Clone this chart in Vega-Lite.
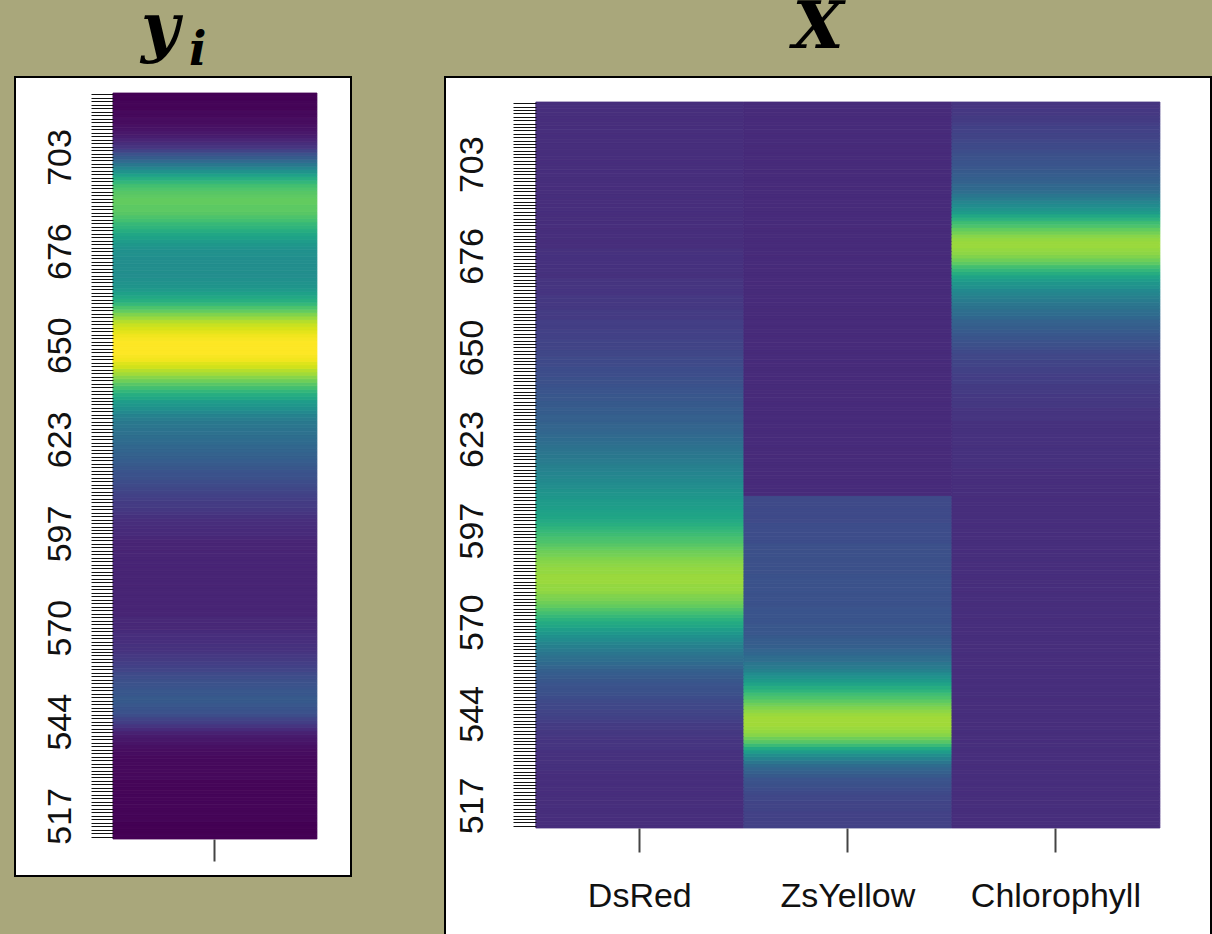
{
  "$schema": "https://vega.github.io/schema/vega-lite/v6.json",
  "background": "#a9a77b",
  "padding": {"left": 14, "top": -6, "right": 0, "bottom": 0},
  "spacing": 94,
  "bounds": "flush",
  "config": {
    "view": {"fill": "white", "stroke": "black", "strokeWidth": 2},
    "axis": {"labelFont": "Liberation Sans", "labelFontSize": 34, "labelColor": "#111111", "tickColor": "#111111", "domain": false, "grid": false, "title": null},
    "title": {"font": "DejaVu Serif", "fontStyle": "italic", "fontWeight": "bold", "color": "black", "anchor": "middle",
              "subtitleFont": "DejaVu Serif", "subtitleFontStyle": "italic", "subtitleFontWeight": "bold", "subtitleColor": "black"}
  },
  "datasets": {
    "spec": [
      {"wl":511.1,"yi":0,"DsRed":0.13,"ZsYellow":0.19,"Chlorophyll":0.13},
      {"wl":512.1,"yi":0,"DsRed":0.13,"ZsYellow":0.19,"Chlorophyll":0.13},
      {"wl":513.1,"yi":0,"DsRed":0.13,"ZsYellow":0.19,"Chlorophyll":0.13},
      {"wl":514.0,"yi":0,"DsRed":0.13,"ZsYellow":0.19,"Chlorophyll":0.13},
      {"wl":515.0,"yi":0,"DsRed":0.13,"ZsYellow":0.19,"Chlorophyll":0.13},
      {"wl":516.0,"yi":0.01,"DsRed":0.13,"ZsYellow":0.2,"Chlorophyll":0.13},
      {"wl":517.0,"yi":0.01,"DsRed":0.13,"ZsYellow":0.2,"Chlorophyll":0.13},
      {"wl":518.0,"yi":0.01,"DsRed":0.13,"ZsYellow":0.2,"Chlorophyll":0.13},
      {"wl":519.0,"yi":0.01,"DsRed":0.13,"ZsYellow":0.21,"Chlorophyll":0.13},
      {"wl":520.0,"yi":0.01,"DsRed":0.13,"ZsYellow":0.21,"Chlorophyll":0.13},
      {"wl":520.9,"yi":0.01,"DsRed":0.13,"ZsYellow":0.22,"Chlorophyll":0.13},
      {"wl":521.9,"yi":0.01,"DsRed":0.13,"ZsYellow":0.23,"Chlorophyll":0.13},
      {"wl":522.9,"yi":0.01,"DsRed":0.13,"ZsYellow":0.24,"Chlorophyll":0.13},
      {"wl":523.9,"yi":0.01,"DsRed":0.13,"ZsYellow":0.25,"Chlorophyll":0.13},
      {"wl":524.9,"yi":0.01,"DsRed":0.13,"ZsYellow":0.26,"Chlorophyll":0.13},
      {"wl":525.9,"yi":0.01,"DsRed":0.13,"ZsYellow":0.28,"Chlorophyll":0.13},
      {"wl":526.8,"yi":0.01,"DsRed":0.13,"ZsYellow":0.3,"Chlorophyll":0.13},
      {"wl":527.8,"yi":0.02,"DsRed":0.14,"ZsYellow":0.32,"Chlorophyll":0.13},
      {"wl":528.8,"yi":0.02,"DsRed":0.14,"ZsYellow":0.35,"Chlorophyll":0.13},
      {"wl":529.8,"yi":0.02,"DsRed":0.14,"ZsYellow":0.39,"Chlorophyll":0.13},
      {"wl":530.8,"yi":0.02,"DsRed":0.14,"ZsYellow":0.44,"Chlorophyll":0.13},
      {"wl":531.8,"yi":0.02,"DsRed":0.14,"ZsYellow":0.49,"Chlorophyll":0.13},
      {"wl":532.7,"yi":0.02,"DsRed":0.14,"ZsYellow":0.55,"Chlorophyll":0.13},
      {"wl":533.7,"yi":0.02,"DsRed":0.15,"ZsYellow":0.61,"Chlorophyll":0.13},
      {"wl":534.7,"yi":0.03,"DsRed":0.15,"ZsYellow":0.68,"Chlorophyll":0.13},
      {"wl":535.7,"yi":0.03,"DsRed":0.15,"ZsYellow":0.74,"Chlorophyll":0.13},
      {"wl":536.7,"yi":0.04,"DsRed":0.15,"ZsYellow":0.78,"Chlorophyll":0.13},
      {"wl":537.7,"yi":0.05,"DsRed":0.16,"ZsYellow":0.82,"Chlorophyll":0.13},
      {"wl":538.7,"yi":0.06,"DsRed":0.16,"ZsYellow":0.84,"Chlorophyll":0.13},
      {"wl":539.6,"yi":0.07,"DsRed":0.17,"ZsYellow":0.85,"Chlorophyll":0.13},
      {"wl":540.6,"yi":0.09,"DsRed":0.17,"ZsYellow":0.86,"Chlorophyll":0.13},
      {"wl":541.6,"yi":0.12,"DsRed":0.18,"ZsYellow":0.86,"Chlorophyll":0.13},
      {"wl":542.6,"yi":0.15,"DsRed":0.19,"ZsYellow":0.86,"Chlorophyll":0.13},
      {"wl":543.6,"yi":0.18,"DsRed":0.2,"ZsYellow":0.85,"Chlorophyll":0.13},
      {"wl":544.6,"yi":0.2,"DsRed":0.2,"ZsYellow":0.83,"Chlorophyll":0.13},
      {"wl":545.5,"yi":0.23,"DsRed":0.21,"ZsYellow":0.81,"Chlorophyll":0.13},
      {"wl":546.5,"yi":0.25,"DsRed":0.21,"ZsYellow":0.78,"Chlorophyll":0.13},
      {"wl":547.5,"yi":0.26,"DsRed":0.22,"ZsYellow":0.75,"Chlorophyll":0.13},
      {"wl":548.5,"yi":0.27,"DsRed":0.23,"ZsYellow":0.72,"Chlorophyll":0.13},
      {"wl":549.5,"yi":0.28,"DsRed":0.24,"ZsYellow":0.69,"Chlorophyll":0.13},
      {"wl":550.5,"yi":0.28,"DsRed":0.25,"ZsYellow":0.65,"Chlorophyll":0.13},
      {"wl":551.4,"yi":0.27,"DsRed":0.25,"ZsYellow":0.62,"Chlorophyll":0.13},
      {"wl":552.4,"yi":0.27,"DsRed":0.26,"ZsYellow":0.58,"Chlorophyll":0.13},
      {"wl":553.4,"yi":0.26,"DsRed":0.27,"ZsYellow":0.54,"Chlorophyll":0.13},
      {"wl":554.4,"yi":0.25,"DsRed":0.28,"ZsYellow":0.51,"Chlorophyll":0.13},
      {"wl":555.4,"yi":0.24,"DsRed":0.29,"ZsYellow":0.48,"Chlorophyll":0.13},
      {"wl":556.4,"yi":0.23,"DsRed":0.3,"ZsYellow":0.44,"Chlorophyll":0.13},
      {"wl":557.3,"yi":0.22,"DsRed":0.32,"ZsYellow":0.41,"Chlorophyll":0.13},
      {"wl":558.3,"yi":0.2,"DsRed":0.34,"ZsYellow":0.39,"Chlorophyll":0.13},
      {"wl":559.3,"yi":0.19,"DsRed":0.36,"ZsYellow":0.36,"Chlorophyll":0.13},
      {"wl":560.3,"yi":0.18,"DsRed":0.37,"ZsYellow":0.35,"Chlorophyll":0.13},
      {"wl":561.3,"yi":0.17,"DsRed":0.39,"ZsYellow":0.33,"Chlorophyll":0.13},
      {"wl":562.3,"yi":0.16,"DsRed":0.41,"ZsYellow":0.32,"Chlorophyll":0.13},
      {"wl":563.3,"yi":0.15,"DsRed":0.43,"ZsYellow":0.3,"Chlorophyll":0.13},
      {"wl":564.2,"yi":0.14,"DsRed":0.45,"ZsYellow":0.29,"Chlorophyll":0.13},
      {"wl":565.2,"yi":0.14,"DsRed":0.48,"ZsYellow":0.29,"Chlorophyll":0.13},
      {"wl":566.2,"yi":0.13,"DsRed":0.5,"ZsYellow":0.28,"Chlorophyll":0.13},
      {"wl":567.2,"yi":0.13,"DsRed":0.53,"ZsYellow":0.27,"Chlorophyll":0.13},
      {"wl":568.2,"yi":0.13,"DsRed":0.56,"ZsYellow":0.27,"Chlorophyll":0.13},
      {"wl":569.2,"yi":0.12,"DsRed":0.59,"ZsYellow":0.27,"Chlorophyll":0.13},
      {"wl":570.1,"yi":0.11,"DsRed":0.61,"ZsYellow":0.26,"Chlorophyll":0.13},
      {"wl":571.1,"yi":0.11,"DsRed":0.64,"ZsYellow":0.26,"Chlorophyll":0.13},
      {"wl":572.1,"yi":0.11,"DsRed":0.67,"ZsYellow":0.26,"Chlorophyll":0.13},
      {"wl":573.1,"yi":0.11,"DsRed":0.7,"ZsYellow":0.26,"Chlorophyll":0.13},
      {"wl":574.1,"yi":0.1,"DsRed":0.73,"ZsYellow":0.26,"Chlorophyll":0.13},
      {"wl":575.1,"yi":0.1,"DsRed":0.76,"ZsYellow":0.25,"Chlorophyll":0.13},
      {"wl":576.0,"yi":0.1,"DsRed":0.78,"ZsYellow":0.25,"Chlorophyll":0.13},
      {"wl":577.0,"yi":0.1,"DsRed":0.8,"ZsYellow":0.25,"Chlorophyll":0.13},
      {"wl":578.0,"yi":0.1,"DsRed":0.81,"ZsYellow":0.25,"Chlorophyll":0.13},
      {"wl":579.0,"yi":0.1,"DsRed":0.83,"ZsYellow":0.25,"Chlorophyll":0.13},
      {"wl":580.0,"yi":0.1,"DsRed":0.84,"ZsYellow":0.25,"Chlorophyll":0.13},
      {"wl":581.0,"yi":0.1,"DsRed":0.84,"ZsYellow":0.25,"Chlorophyll":0.13},
      {"wl":582.0,"yi":0.1,"DsRed":0.85,"ZsYellow":0.25,"Chlorophyll":0.13},
      {"wl":582.9,"yi":0.1,"DsRed":0.85,"ZsYellow":0.25,"Chlorophyll":0.13},
      {"wl":583.9,"yi":0.1,"DsRed":0.85,"ZsYellow":0.25,"Chlorophyll":0.13},
      {"wl":584.9,"yi":0.1,"DsRed":0.84,"ZsYellow":0.24,"Chlorophyll":0.13},
      {"wl":585.9,"yi":0.1,"DsRed":0.84,"ZsYellow":0.24,"Chlorophyll":0.13},
      {"wl":586.9,"yi":0.1,"DsRed":0.83,"ZsYellow":0.24,"Chlorophyll":0.13},
      {"wl":587.9,"yi":0.1,"DsRed":0.82,"ZsYellow":0.24,"Chlorophyll":0.13},
      {"wl":588.8,"yi":0.1,"DsRed":0.81,"ZsYellow":0.24,"Chlorophyll":0.13},
      {"wl":589.8,"yi":0.1,"DsRed":0.79,"ZsYellow":0.24,"Chlorophyll":0.13},
      {"wl":590.8,"yi":0.1,"DsRed":0.78,"ZsYellow":0.24,"Chlorophyll":0.13},
      {"wl":591.8,"yi":0.1,"DsRed":0.76,"ZsYellow":0.24,"Chlorophyll":0.13},
      {"wl":592.8,"yi":0.1,"DsRed":0.74,"ZsYellow":0.24,"Chlorophyll":0.13},
      {"wl":593.8,"yi":0.1,"DsRed":0.72,"ZsYellow":0.23,"Chlorophyll":0.13},
      {"wl":594.7,"yi":0.1,"DsRed":0.71,"ZsYellow":0.23,"Chlorophyll":0.13},
      {"wl":595.7,"yi":0.11,"DsRed":0.69,"ZsYellow":0.23,"Chlorophyll":0.13},
      {"wl":596.7,"yi":0.12,"DsRed":0.67,"ZsYellow":0.23,"Chlorophyll":0.13},
      {"wl":597.7,"yi":0.12,"DsRed":0.65,"ZsYellow":0.23,"Chlorophyll":0.13},
      {"wl":598.7,"yi":0.12,"DsRed":0.63,"ZsYellow":0.23,"Chlorophyll":0.13},
      {"wl":599.7,"yi":0.13,"DsRed":0.61,"ZsYellow":0.22,"Chlorophyll":0.13},
      {"wl":600.7,"yi":0.13,"DsRed":0.59,"ZsYellow":0.22,"Chlorophyll":0.13},
      {"wl":601.6,"yi":0.14,"DsRed":0.58,"ZsYellow":0.22,"Chlorophyll":0.13},
      {"wl":602.6,"yi":0.15,"DsRed":0.57,"ZsYellow":0.22,"Chlorophyll":0.13},
      {"wl":603.6,"yi":0.16,"DsRed":0.56,"ZsYellow":0.22,"Chlorophyll":0.13},
      {"wl":604.6,"yi":0.17,"DsRed":0.55,"ZsYellow":0.22,"Chlorophyll":0.13},
      {"wl":605.6,"yi":0.17,"DsRed":0.54,"ZsYellow":0.22,"Chlorophyll":0.13},
      {"wl":606.6,"yi":0.18,"DsRed":0.53,"ZsYellow":0.22,"Chlorophyll":0.13},
      {"wl":607.5,"yi":0.19,"DsRed":0.52,"ZsYellow":0.12,"Chlorophyll":0.13},
      {"wl":608.5,"yi":0.2,"DsRed":0.51,"ZsYellow":0.12,"Chlorophyll":0.13},
      {"wl":609.5,"yi":0.21,"DsRed":0.49,"ZsYellow":0.12,"Chlorophyll":0.13},
      {"wl":610.5,"yi":0.22,"DsRed":0.48,"ZsYellow":0.12,"Chlorophyll":0.13},
      {"wl":611.5,"yi":0.23,"DsRed":0.47,"ZsYellow":0.12,"Chlorophyll":0.13},
      {"wl":612.5,"yi":0.24,"DsRed":0.46,"ZsYellow":0.12,"Chlorophyll":0.13},
      {"wl":613.4,"yi":0.25,"DsRed":0.45,"ZsYellow":0.12,"Chlorophyll":0.13},
      {"wl":614.4,"yi":0.26,"DsRed":0.44,"ZsYellow":0.12,"Chlorophyll":0.13},
      {"wl":615.4,"yi":0.27,"DsRed":0.43,"ZsYellow":0.12,"Chlorophyll":0.14},
      {"wl":616.4,"yi":0.28,"DsRed":0.42,"ZsYellow":0.12,"Chlorophyll":0.14},
      {"wl":617.4,"yi":0.29,"DsRed":0.41,"ZsYellow":0.12,"Chlorophyll":0.14},
      {"wl":618.4,"yi":0.3,"DsRed":0.4,"ZsYellow":0.12,"Chlorophyll":0.14},
      {"wl":619.3,"yi":0.31,"DsRed":0.39,"ZsYellow":0.12,"Chlorophyll":0.14},
      {"wl":620.3,"yi":0.32,"DsRed":0.38,"ZsYellow":0.12,"Chlorophyll":0.14},
      {"wl":621.3,"yi":0.33,"DsRed":0.37,"ZsYellow":0.12,"Chlorophyll":0.14},
      {"wl":622.3,"yi":0.34,"DsRed":0.36,"ZsYellow":0.12,"Chlorophyll":0.14},
      {"wl":623.3,"yi":0.35,"DsRed":0.35,"ZsYellow":0.12,"Chlorophyll":0.14},
      {"wl":624.3,"yi":0.36,"DsRed":0.34,"ZsYellow":0.12,"Chlorophyll":0.14},
      {"wl":625.3,"yi":0.37,"DsRed":0.33,"ZsYellow":0.12,"Chlorophyll":0.14},
      {"wl":626.2,"yi":0.38,"DsRed":0.32,"ZsYellow":0.12,"Chlorophyll":0.14},
      {"wl":627.2,"yi":0.39,"DsRed":0.32,"ZsYellow":0.12,"Chlorophyll":0.14},
      {"wl":628.2,"yi":0.4,"DsRed":0.31,"ZsYellow":0.12,"Chlorophyll":0.14},
      {"wl":629.2,"yi":0.42,"DsRed":0.3,"ZsYellow":0.12,"Chlorophyll":0.15},
      {"wl":630.2,"yi":0.44,"DsRed":0.3,"ZsYellow":0.12,"Chlorophyll":0.15},
      {"wl":631.2,"yi":0.47,"DsRed":0.29,"ZsYellow":0.12,"Chlorophyll":0.15},
      {"wl":632.1,"yi":0.5,"DsRed":0.29,"ZsYellow":0.12,"Chlorophyll":0.15},
      {"wl":633.1,"yi":0.53,"DsRed":0.28,"ZsYellow":0.12,"Chlorophyll":0.16},
      {"wl":634.1,"yi":0.55,"DsRed":0.28,"ZsYellow":0.12,"Chlorophyll":0.16},
      {"wl":635.1,"yi":0.59,"DsRed":0.27,"ZsYellow":0.12,"Chlorophyll":0.16},
      {"wl":636.1,"yi":0.62,"DsRed":0.27,"ZsYellow":0.12,"Chlorophyll":0.16},
      {"wl":637.1,"yi":0.66,"DsRed":0.26,"ZsYellow":0.12,"Chlorophyll":0.17},
      {"wl":638.0,"yi":0.7,"DsRed":0.26,"ZsYellow":0.12,"Chlorophyll":0.17},
      {"wl":639.0,"yi":0.74,"DsRed":0.25,"ZsYellow":0.12,"Chlorophyll":0.17},
      {"wl":640.0,"yi":0.78,"DsRed":0.24,"ZsYellow":0.12,"Chlorophyll":0.18},
      {"wl":641.0,"yi":0.82,"DsRed":0.24,"ZsYellow":0.12,"Chlorophyll":0.18},
      {"wl":642.0,"yi":0.86,"DsRed":0.23,"ZsYellow":0.12,"Chlorophyll":0.18},
      {"wl":643.0,"yi":0.89,"DsRed":0.23,"ZsYellow":0.12,"Chlorophyll":0.19},
      {"wl":644.0,"yi":0.93,"DsRed":0.23,"ZsYellow":0.12,"Chlorophyll":0.19},
      {"wl":644.9,"yi":0.95,"DsRed":0.22,"ZsYellow":0.12,"Chlorophyll":0.2},
      {"wl":645.9,"yi":0.98,"DsRed":0.22,"ZsYellow":0.12,"Chlorophyll":0.2},
      {"wl":646.9,"yi":0.99,"DsRed":0.22,"ZsYellow":0.12,"Chlorophyll":0.21},
      {"wl":647.9,"yi":1.0,"DsRed":0.21,"ZsYellow":0.12,"Chlorophyll":0.21},
      {"wl":648.9,"yi":1.0,"DsRed":0.21,"ZsYellow":0.12,"Chlorophyll":0.22},
      {"wl":649.9,"yi":1.0,"DsRed":0.2,"ZsYellow":0.12,"Chlorophyll":0.23},
      {"wl":650.8,"yi":1.0,"DsRed":0.2,"ZsYellow":0.12,"Chlorophyll":0.24},
      {"wl":651.8,"yi":0.99,"DsRed":0.2,"ZsYellow":0.12,"Chlorophyll":0.25},
      {"wl":652.8,"yi":0.98,"DsRed":0.19,"ZsYellow":0.12,"Chlorophyll":0.26},
      {"wl":653.8,"yi":0.96,"DsRed":0.19,"ZsYellow":0.12,"Chlorophyll":0.27},
      {"wl":654.8,"yi":0.94,"DsRed":0.19,"ZsYellow":0.12,"Chlorophyll":0.28},
      {"wl":655.8,"yi":0.92,"DsRed":0.18,"ZsYellow":0.12,"Chlorophyll":0.29},
      {"wl":656.7,"yi":0.89,"DsRed":0.18,"ZsYellow":0.12,"Chlorophyll":0.3},
      {"wl":657.7,"yi":0.85,"DsRed":0.18,"ZsYellow":0.12,"Chlorophyll":0.31},
      {"wl":658.7,"yi":0.81,"DsRed":0.17,"ZsYellow":0.12,"Chlorophyll":0.33},
      {"wl":659.7,"yi":0.76,"DsRed":0.17,"ZsYellow":0.12,"Chlorophyll":0.35},
      {"wl":660.7,"yi":0.72,"DsRed":0.17,"ZsYellow":0.12,"Chlorophyll":0.36},
      {"wl":661.7,"yi":0.67,"DsRed":0.16,"ZsYellow":0.12,"Chlorophyll":0.38},
      {"wl":662.7,"yi":0.63,"DsRed":0.16,"ZsYellow":0.12,"Chlorophyll":0.39},
      {"wl":663.6,"yi":0.6,"DsRed":0.16,"ZsYellow":0.12,"Chlorophyll":0.41},
      {"wl":664.6,"yi":0.57,"DsRed":0.16,"ZsYellow":0.12,"Chlorophyll":0.43},
      {"wl":665.6,"yi":0.54,"DsRed":0.15,"ZsYellow":0.12,"Chlorophyll":0.45},
      {"wl":666.6,"yi":0.52,"DsRed":0.15,"ZsYellow":0.12,"Chlorophyll":0.47},
      {"wl":667.6,"yi":0.51,"DsRed":0.15,"ZsYellow":0.12,"Chlorophyll":0.5},
      {"wl":668.6,"yi":0.5,"DsRed":0.15,"ZsYellow":0.12,"Chlorophyll":0.52},
      {"wl":669.5,"yi":0.49,"DsRed":0.15,"ZsYellow":0.12,"Chlorophyll":0.55},
      {"wl":670.5,"yi":0.49,"DsRed":0.14,"ZsYellow":0.12,"Chlorophyll":0.58},
      {"wl":671.5,"yi":0.49,"DsRed":0.14,"ZsYellow":0.12,"Chlorophyll":0.62},
      {"wl":672.5,"yi":0.49,"DsRed":0.14,"ZsYellow":0.12,"Chlorophyll":0.66},
      {"wl":673.5,"yi":0.49,"DsRed":0.14,"ZsYellow":0.12,"Chlorophyll":0.7},
      {"wl":674.5,"yi":0.49,"DsRed":0.14,"ZsYellow":0.12,"Chlorophyll":0.75},
      {"wl":675.4,"yi":0.5,"DsRed":0.14,"ZsYellow":0.12,"Chlorophyll":0.78},
      {"wl":676.4,"yi":0.5,"DsRed":0.14,"ZsYellow":0.12,"Chlorophyll":0.81},
      {"wl":677.4,"yi":0.51,"DsRed":0.14,"ZsYellow":0.12,"Chlorophyll":0.83},
      {"wl":678.4,"yi":0.53,"DsRed":0.14,"ZsYellow":0.12,"Chlorophyll":0.84},
      {"wl":679.4,"yi":0.55,"DsRed":0.13,"ZsYellow":0.12,"Chlorophyll":0.85},
      {"wl":680.4,"yi":0.57,"DsRed":0.13,"ZsYellow":0.12,"Chlorophyll":0.85},
      {"wl":681.3,"yi":0.59,"DsRed":0.13,"ZsYellow":0.12,"Chlorophyll":0.84},
      {"wl":682.3,"yi":0.62,"DsRed":0.13,"ZsYellow":0.12,"Chlorophyll":0.82},
      {"wl":683.3,"yi":0.65,"DsRed":0.13,"ZsYellow":0.12,"Chlorophyll":0.79},
      {"wl":684.3,"yi":0.67,"DsRed":0.13,"ZsYellow":0.12,"Chlorophyll":0.76},
      {"wl":685.3,"yi":0.7,"DsRed":0.13,"ZsYellow":0.12,"Chlorophyll":0.72},
      {"wl":686.3,"yi":0.72,"DsRed":0.13,"ZsYellow":0.12,"Chlorophyll":0.69},
      {"wl":687.3,"yi":0.74,"DsRed":0.13,"ZsYellow":0.12,"Chlorophyll":0.64},
      {"wl":688.2,"yi":0.75,"DsRed":0.13,"ZsYellow":0.12,"Chlorophyll":0.6},
      {"wl":689.2,"yi":0.75,"DsRed":0.13,"ZsYellow":0.12,"Chlorophyll":0.55},
      {"wl":690.2,"yi":0.76,"DsRed":0.13,"ZsYellow":0.12,"Chlorophyll":0.51},
      {"wl":691.2,"yi":0.76,"DsRed":0.13,"ZsYellow":0.12,"Chlorophyll":0.48},
      {"wl":692.2,"yi":0.75,"DsRed":0.13,"ZsYellow":0.12,"Chlorophyll":0.45},
      {"wl":693.2,"yi":0.74,"DsRed":0.13,"ZsYellow":0.12,"Chlorophyll":0.42},
      {"wl":694.1,"yi":0.72,"DsRed":0.13,"ZsYellow":0.12,"Chlorophyll":0.39},
      {"wl":695.1,"yi":0.7,"DsRed":0.13,"ZsYellow":0.12,"Chlorophyll":0.36},
      {"wl":696.1,"yi":0.66,"DsRed":0.13,"ZsYellow":0.12,"Chlorophyll":0.34},
      {"wl":697.1,"yi":0.62,"DsRed":0.13,"ZsYellow":0.12,"Chlorophyll":0.33},
      {"wl":698.1,"yi":0.57,"DsRed":0.13,"ZsYellow":0.12,"Chlorophyll":0.31},
      {"wl":699.1,"yi":0.51,"DsRed":0.13,"ZsYellow":0.12,"Chlorophyll":0.3},
      {"wl":700.0,"yi":0.45,"DsRed":0.13,"ZsYellow":0.12,"Chlorophyll":0.29},
      {"wl":701.0,"yi":0.4,"DsRed":0.13,"ZsYellow":0.12,"Chlorophyll":0.28},
      {"wl":702.0,"yi":0.34,"DsRed":0.13,"ZsYellow":0.12,"Chlorophyll":0.27},
      {"wl":703.0,"yi":0.29,"DsRed":0.13,"ZsYellow":0.12,"Chlorophyll":0.26},
      {"wl":704.0,"yi":0.25,"DsRed":0.13,"ZsYellow":0.12,"Chlorophyll":0.26},
      {"wl":705.0,"yi":0.2,"DsRed":0.13,"ZsYellow":0.12,"Chlorophyll":0.25},
      {"wl":706.0,"yi":0.15,"DsRed":0.13,"ZsYellow":0.12,"Chlorophyll":0.24},
      {"wl":706.9,"yi":0.13,"DsRed":0.13,"ZsYellow":0.12,"Chlorophyll":0.23},
      {"wl":707.9,"yi":0.1,"DsRed":0.13,"ZsYellow":0.12,"Chlorophyll":0.22},
      {"wl":708.9,"yi":0.08,"DsRed":0.13,"ZsYellow":0.12,"Chlorophyll":0.22},
      {"wl":709.9,"yi":0.06,"DsRed":0.13,"ZsYellow":0.12,"Chlorophyll":0.21},
      {"wl":710.9,"yi":0.05,"DsRed":0.13,"ZsYellow":0.12,"Chlorophyll":0.2},
      {"wl":711.9,"yi":0.04,"DsRed":0.13,"ZsYellow":0.12,"Chlorophyll":0.2},
      {"wl":712.8,"yi":0.03,"DsRed":0.13,"ZsYellow":0.12,"Chlorophyll":0.19},
      {"wl":713.8,"yi":0.03,"DsRed":0.13,"ZsYellow":0.12,"Chlorophyll":0.19},
      {"wl":714.8,"yi":0.02,"DsRed":0.13,"ZsYellow":0.12,"Chlorophyll":0.18},
      {"wl":715.8,"yi":0.02,"DsRed":0.13,"ZsYellow":0.12,"Chlorophyll":0.17},
      {"wl":716.8,"yi":0.01,"DsRed":0.13,"ZsYellow":0.12,"Chlorophyll":0.17},
      {"wl":717.8,"yi":0.01,"DsRed":0.13,"ZsYellow":0.12,"Chlorophyll":0.16},
      {"wl":718.7,"yi":0.01,"DsRed":0.13,"ZsYellow":0.12,"Chlorophyll":0.16},
      {"wl":719.7,"yi":0,"DsRed":0.13,"ZsYellow":0.12,"Chlorophyll":0.15},
      {"wl":720.7,"yi":0,"DsRed":0.13,"ZsYellow":0.12,"Chlorophyll":0.15}
    ]
  },
  "data": {"name": "spec"},
  "hconcat": [
    {
      "width": 336,
      "height": 799,
      "title": {"text": "y", "subtitle": "\u2060\u00a0\u00a0\u00a0i", "fontSize": 66, "subtitleFontSize": 46, "subtitlePadding": -34, "align": "left", "dx": -42, "offset": 2},
      "transform": [{"fold": ["yi"], "as": ["series", "val"]}],
      "mark": {"type": "rect", "strokeWidth": 0.8},
      "encoding": {
        "x": {"field": "series", "type": "nominal",
              "scale": {"paddingInner": 0, "paddingOuter": 0.3235, "align": 0.742},
              "axis": {"orient": "bottom", "offset": -37, "tickSize": 22, "tickWidth": 2, "tickColor": "#444444", "labels": false}},
        "y": {"field": "wl", "type": "ordinal", "sort": "descending",
              "scale": {"paddingInner": 0, "paddingOuter": 0, "range": [16, 762]},
              "axis": {"offset": -98, "tickSize": 22, "labelAngle": -90, "labelPadding": 14, "labelOverlap": false,
                       "labelExpr": "indexof([517,543.6,570.1,596.7,623.3,649.9,676.4,703], datum.value) >= 0 ? format(datum.value, '.0f') : ''"}},
        "color": {"field": "val", "type": "quantitative", "scale": {"scheme": "viridis", "domain": [0, 1]}, "legend": null},
        "stroke": {"field": "val", "type": "quantitative", "scale": {"scheme": "viridis", "domain": [0, 1]}, "legend": null}
      }
    },
    {
      "width": 766,
      "height": 870,
      "title": {"text": "X", "fontSize": 66, "offset": 15, "dx": -10},
      "transform": [{"fold": ["DsRed", "ZsYellow", "Chlorophyll"], "as": ["dye", "val"]}],
      "mark": {"type": "rect", "strokeWidth": 0.8},
      "encoding": {
        "x": {"field": "dye", "type": "nominal", "sort": ["DsRed", "ZsYellow", "Chlorophyll"],
              "scale": {"paddingInner": 0, "paddingOuter": 0.341, "align": 0.64},
              "axis": {"orient": "bottom", "offset": -119, "tickSize": 24, "tickWidth": 2, "tickColor": "#444444", "labelAngle": 0, "labelPadding": 27}},
        "y": {"field": "wl", "type": "ordinal", "sort": "descending",
              "scale": {"paddingInner": 0, "paddingOuter": 0, "range": [25, 751]},
              "axis": {"offset": -91, "tickSize": 23, "labelAngle": -90, "labelPadding": 24, "labelOverlap": false,
                       "labelExpr": "indexof([517,543.6,570.1,596.7,623.3,649.9,676.4,703], datum.value) >= 0 ? format(datum.value, '.0f') : ''"}},
        "color": {"field": "val", "type": "quantitative", "scale": {"scheme": "viridis", "domain": [0, 1]}, "legend": null},
        "stroke": {"field": "val", "type": "quantitative", "scale": {"scheme": "viridis", "domain": [0, 1]}, "legend": null}
      }
    }
  ]
}
